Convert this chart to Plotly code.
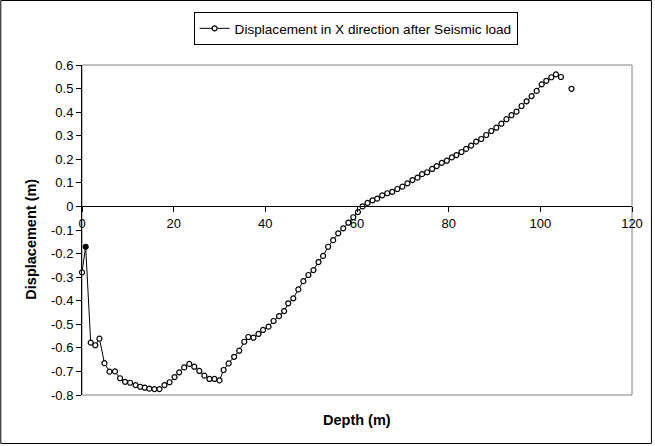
import plotly.graph_objects as go

# Depth (m) along the section and horizontal displacement (m) after the seismic load.
# A blank reading at 105.6 m breaks the line before the last point.
depth = [
    0.0, 0.8, 1.9, 2.9, 3.8, 4.9, 6.0, 7.2, 8.3, 9.4,
    10.5, 11.7, 12.7, 13.7, 14.7, 15.8, 16.9, 18.0, 19.1, 20.2,
    21.2, 22.3, 23.4, 24.5, 25.6, 26.7, 27.8, 28.9, 30.0, 30.9,
    32.0, 33.2, 34.3, 35.4, 36.3, 37.4, 38.5, 39.5, 40.7, 41.8,
    43.0, 44.1, 45.0, 46.1, 47.2, 48.3, 49.4, 50.5, 51.6, 52.6,
    53.7, 54.8, 55.9, 57.0, 58.1, 59.2, 60.2, 61.2, 62.3, 63.4,
    64.4, 65.5, 66.6, 67.7, 68.8, 69.9, 71.0, 72.1, 73.2, 74.2,
    75.3, 76.4, 77.4, 78.5, 79.6, 80.7, 81.7, 82.8, 83.8, 84.9,
    86.0, 87.1, 88.2, 89.3, 90.4, 91.5, 92.6, 93.7, 94.8, 95.9,
    97.0, 98.1, 99.2, 100.3, 101.3, 102.4, 103.4, 104.5, 105.6, 106.8,
]
displacement_x = [
    -0.280, -0.171, -0.578, -0.589, -0.561, -0.665, -0.701, -0.700, -0.729, -0.744,
    -0.748, -0.758, -0.765, -0.769, -0.773, -0.775, -0.775, -0.758, -0.746, -0.724,
    -0.704, -0.683, -0.668, -0.680, -0.698, -0.718, -0.732, -0.732, -0.738, -0.694,
    -0.666, -0.638, -0.612, -0.574, -0.554, -0.557, -0.541, -0.524, -0.510, -0.486,
    -0.465, -0.444, -0.411, -0.390, -0.352, -0.317, -0.291, -0.270, -0.236, -0.210,
    -0.171, -0.143, -0.114, -0.093, -0.069, -0.046, -0.024, 0.000, 0.015, 0.026,
    0.033, 0.047, 0.056, 0.062, 0.074, 0.084, 0.098, 0.112, 0.122, 0.137,
    0.145, 0.159, 0.171, 0.185, 0.194, 0.208, 0.218, 0.231, 0.244, 0.258,
    0.275, 0.286, 0.303, 0.320, 0.334, 0.351, 0.370, 0.387, 0.402, 0.426,
    0.446, 0.468, 0.490, 0.518, 0.533, 0.548, 0.560, 0.549, None, 0.499,
]

series_name = "Displacement in X direction after Seismic load"
x_title = "Depth (m)"
y_title = "Displacement (m)"

x_ticks = [0, 20, 40, 60, 80, 100, 120]
y_ticks = [0.6, 0.5, 0.4, 0.3, 0.2, 0.1, 0.0, -0.1, -0.2, -0.3, -0.4, -0.5, -0.6, -0.7, -0.8]
y_tick_labels = ["0.6", "0.5", "0.4", "0.3", "0.2", "0.1", "0", "-0.1", "-0.2", "-0.3",
                 "-0.4", "-0.5", "-0.6", "-0.7", "-0.8"]

W, H = 655, 446
ML, MR, MT, MB = 82, 21, 65, 51
PW, PH = W - ML - MR, H - MT - MB


def px_x(px):
    return (px - ML) / PW


def px_y(py):
    return (H - MB - py) / PH


FONT = "Liberation Sans, Arial, sans-serif"

# second reading sits on two overlapping markers, drawn solid
marker_fill = ["white"] * len(depth)
marker_fill[1] = "black"

fig = go.Figure()
fig.add_trace(go.Scatter(
    x=depth,
    y=displacement_x,
    name=series_name,
    mode="lines+markers",
    line=dict(color="black", width=1),
    marker=dict(symbol="circle", size=5, color=marker_fill,
                line=dict(color="black", width=1.2)),
    connectgaps=False,
    cliponaxis=False,
    showlegend=True,
))

y_min, y_max = -0.8, 0.6

fig.update_layout(
    width=W,
    height=H,
    margin=dict(l=ML, r=MR, t=MT, b=MB, pad=0),
    paper_bgcolor="white",
    plot_bgcolor="white",
    font=dict(family=FONT, size=13, color="black"),
    showlegend=True,
    legend=dict(
        x=px_x(194), y=px_y(12), xanchor="left", yanchor="top",
        bordercolor="black", borderwidth=1, bgcolor="white",
        font=dict(family=FONT, size=13.6, color="black"),
    ),
    xaxis=dict(
        range=[0, 120],
        tickvals=x_ticks,
        anchor="free",
        position=(0 - y_min) / (y_max - y_min),
        showline=True, linecolor="black", linewidth=1,
        ticks="outside", ticklen=5, tickcolor="black", tickwidth=1,
        showgrid=False, zeroline=False,
        tickfont=dict(family=FONT, size=13, color="black"),
    ),
    yaxis=dict(
        range=[y_min, y_max],
        tickvals=y_ticks,
        ticktext=y_tick_labels,
        showline=True, linecolor="black", linewidth=1,
        ticks="outside", ticklen=5, tickcolor="black", tickwidth=1,
        showgrid=False, zeroline=False,
        tickfont=dict(family=FONT, size=13, color="black"),
    ),
    shapes=[
        # plot-area frame
        dict(type="rect", xref="paper", yref="paper", x0=0, x1=1, y0=0, y1=1,
             line=dict(color="#808080", width=1), layer="below"),
        # chart-area frame
        dict(type="rect", xref="paper", yref="paper",
             x0=px_x(0.5), x1=px_x(653.5), y0=px_y(443.5), y1=px_y(0.5),
             line=dict(color="black", width=1), layer="below"),
    ],
    annotations=[
        dict(text="<b>" + x_title + "</b>", xref="paper", yref="paper",
             x=0.5, y=px_y(420), xanchor="center", yanchor="middle",
             showarrow=False, font=dict(family=FONT, size=14.5, color="black")),
        dict(text="<b>" + y_title + "</b>", xref="paper", yref="paper",
             x=px_x(30.5), y=px_y(239), xanchor="center", yanchor="middle",
             textangle=-90, showarrow=False,
             font=dict(family=FONT, size=14.5, color="black")),
    ],
)

fig.write_html("out.html")
